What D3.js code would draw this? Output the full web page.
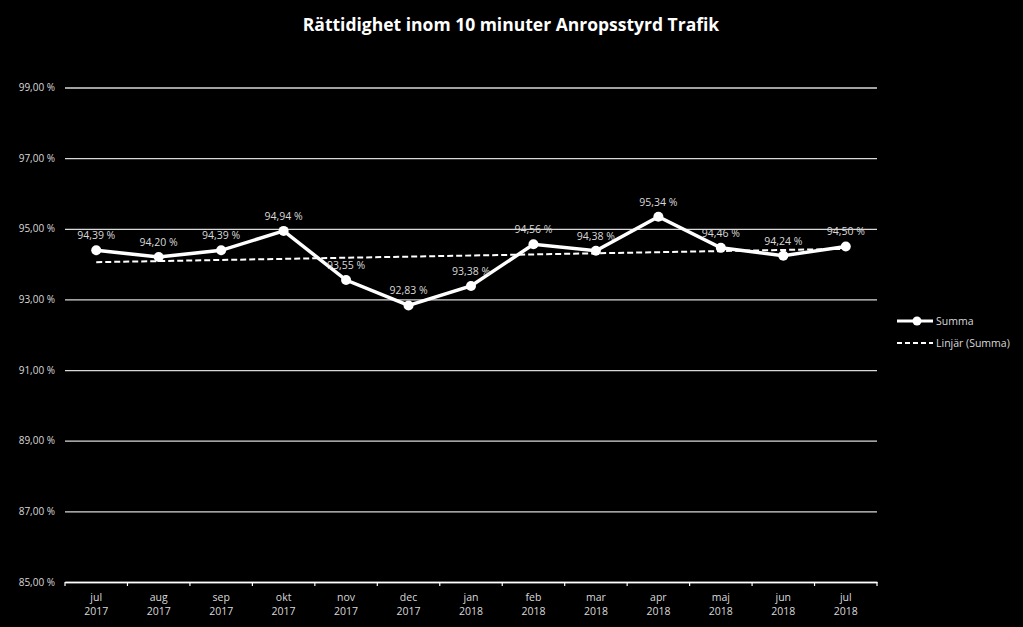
<!DOCTYPE html>
<html><head><meta charset="utf-8">
<script src="https://cdn.jsdelivr.net/npm/d3@7"></script>
<style>body{margin:0;background:#000}svg{display:block}</style>
</head><body>
<svg id="c" width="1023" height="627"></svg>
<script>
const months = ["jul","aug","sep","okt","nov","dec","jan","feb","mar","apr","maj","jun","jul"];
const years = ["2017","2017","2017","2017","2017","2017","2018","2018","2018","2018","2018","2018","2018"];
const values = [94.39,94.20,94.39,94.94,93.55,92.83,93.38,94.56,94.38,95.34,94.46,94.24,94.50];
const yTicks = [85,87,89,91,93,95,97,99];
const title = "Rättidighet inom 10 minuter Anropsstyrd Trafik";
const seriesName = "Summa";
const trendName = "Linjär (Summa)";

const svg = d3.select("#c");
svg.append("rect").attr("width",1023).attr("height",627).attr("fill","#000");
const font = "'Open Sans', sans-serif";
const L=65, R=877, T=87.5, B=582;
const idx = d3.range(values.length);
const x = d3.scaleBand().domain(idx).range([L,R]);
const y = d3.scaleLinear().domain([85,99]).range([B,T]);
const fmt = v => d3.format(".2f")(v).replace(".",",") + " %";

svg.append("text").attr("x",511).attr("y",31).attr("text-anchor","middle")
  .attr("fill","#fff").attr("font-family",font).attr("font-weight","bold").attr("font-size",17.5).text(title);

// grid
const yAxis = svg.append("g").attr("transform",`translate(${L},0)`)
  .call(d3.axisLeft(y).tickValues(yTicks).tickSize(-(R-L)).tickFormat(fmt));
yAxis.select(".domain").remove();
yAxis.selectAll("line").attr("stroke","#d9d9d9").attr("stroke-width",1.3);
yAxis.selectAll("text").attr("fill","#d9d9d9").attr("font-family",font).attr("font-size",10).attr("x",-10);

// x axis
const xAxis = svg.append("g").attr("transform",`translate(0,${B})`)
  .call(d3.axisBottom(x).tickSize(0).tickFormat(""));
xAxis.select(".domain").attr("stroke","#fff").attr("stroke-width",1.5);
const bounds = d3.range(values.length+1).map(i => L + i*x.step());
svg.selectAll(".xt").data(bounds).join("line").attr("x1",d=>d).attr("x2",d=>d)
  .attr("y1",B).attr("y2",B+4).attr("stroke","#fff").attr("stroke-width",1.2);
const xl = svg.append("g");
idx.forEach(i=>{
  const t = xl.append("text").attr("x",x(i)+x.bandwidth()/2).attr("text-anchor","middle")
    .attr("fill","#d9d9d9").attr("font-family",font).attr("font-size",10.5);
  t.append("tspan").attr("x",x(i)+x.bandwidth()/2).attr("y",601).text(months[i]);
  t.append("tspan").attr("x",x(i)+x.bandwidth()/2).attr("y",615).text(years[i]);
});

// trend (least squares)
const n = values.length, mx = d3.mean(idx), my = d3.mean(values);
const slope = d3.sum(idx,i=>(i-mx)*(values[i]-my))/d3.sum(idx,i=>(i-mx)**2);
const icpt = my - slope*mx;
const cx = i => x(i)+x.bandwidth()/2;
svg.append("line").attr("x1",cx(0)).attr("x2",cx(n-1))
  .attr("y1",y(icpt)).attr("y2",y(icpt+slope*(n-1)))
  .attr("stroke","#fff").attr("stroke-width",2).attr("stroke-dasharray","6,3");

// series
svg.append("path").datum(values).attr("fill","none").attr("stroke","#fff").attr("stroke-width",3.5)
  .attr("d",d3.line().x((d,i)=>cx(i)).y(d=>y(d)));
svg.selectAll(".pt").data(values).join("circle").attr("cx",(d,i)=>cx(i)).attr("cy",d=>y(d))
  .attr("r",5).attr("fill","#fff");
svg.selectAll(".lb").data(values).join("text").attr("x",(d,i)=>cx(i)).attr("y",d=>y(d)-11)
  .attr("text-anchor","middle").attr("fill","#d9d9d9").attr("font-family",font).attr("font-size",10.5)
  .text(d=>fmt(d));

// legend
const lg = svg.append("g");
lg.append("line").attr("x1",897).attr("x2",933).attr("y1",321).attr("y2",321).attr("stroke","#fff").attr("stroke-width",3);
lg.append("circle").attr("cx",917).attr("cy",321).attr("r",4.5).attr("fill","#fff");
lg.append("text").attr("x",936).attr("y",325).attr("fill","#d9d9d9").attr("font-family",font).attr("font-size",10.5).text(seriesName);
lg.append("line").attr("x1",897).attr("x2",933).attr("y1",343).attr("y2",343).attr("stroke","#fff").attr("stroke-width",1.8).attr("stroke-dasharray","5,3");
lg.append("text").attr("x",936).attr("y",347).attr("fill","#d9d9d9").attr("font-family",font).attr("font-size",10.5).text(trendName);
</script>
</body></html>
